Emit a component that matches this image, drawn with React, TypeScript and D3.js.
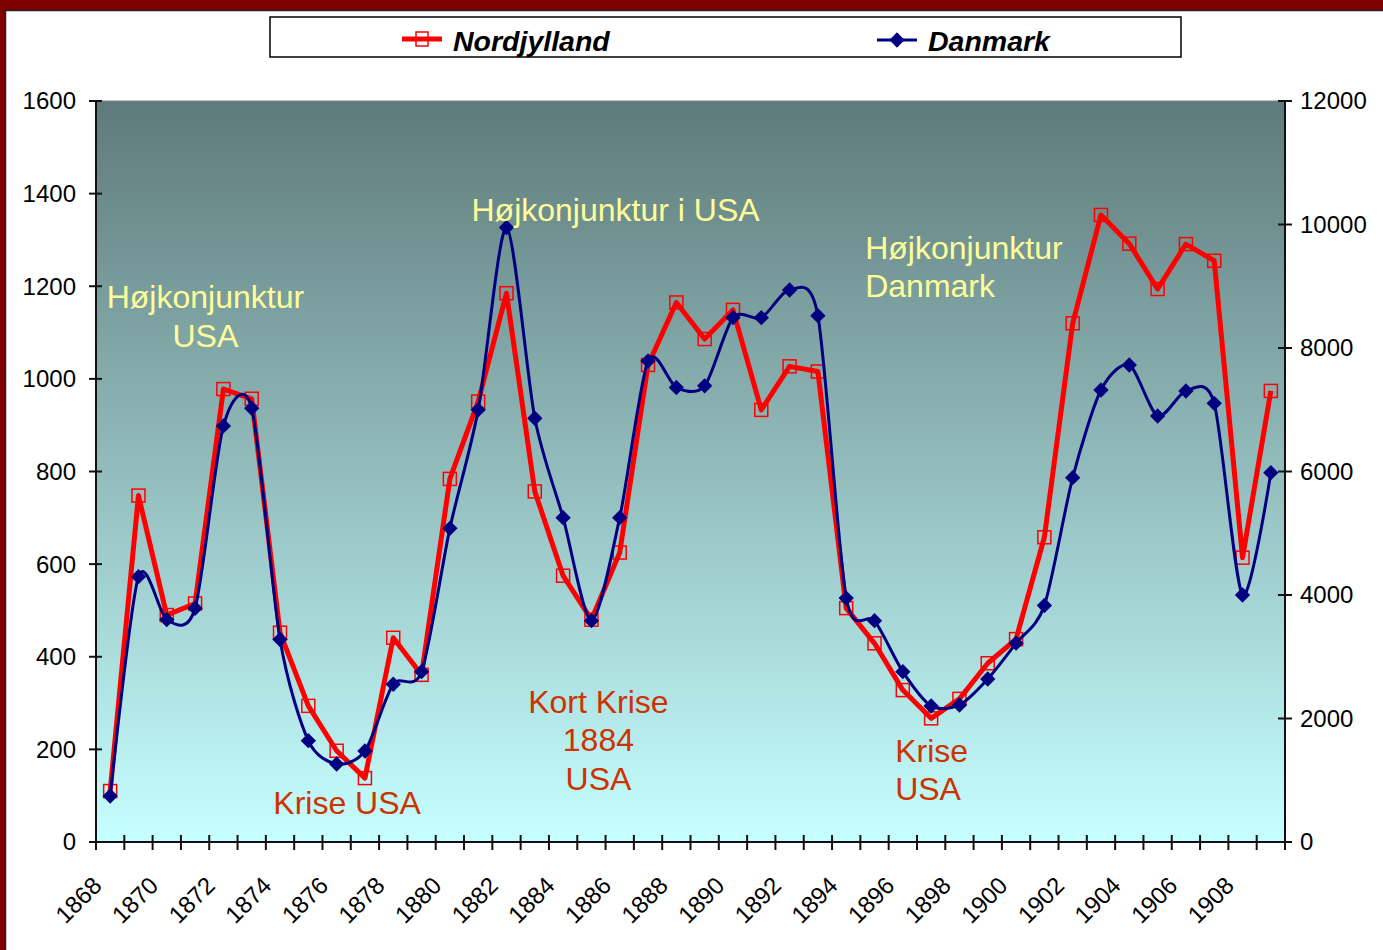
import React, { useEffect, useRef } from 'react';
import * as d3 from 'd3';

const years = d3.range(1868, 1910).map(String);

// Nordjylland, left axis
const nordjylland = [
  110, 748, 490, 515, 978, 957, 452, 294, 197, 138,
  441, 361, 784, 951, 1185, 757, 575, 480, 625, 1030,
  1165, 1086, 1149, 933, 1027, 1016, 505, 429, 328, 267,
  309, 386, 438, 658, 1120, 1354, 1292, 1194, 1291, 1255,
  614, 974,
];

// Danmark, right axis
const danmark = [
  745, 4297, 3600, 3785, 6738, 7025, 3280, 1641, 1263, 1474,
  2555, 2758, 5080, 6998, 9951, 6862, 5253, 3585, 5253, 7791,
  7360, 7387, 8491, 8491, 8939, 8523, 3950, 3584, 2758, 2203,
  2219, 2640, 3220, 3830, 5900, 7320, 7725, 6899, 7304, 7104,
  4000, 5981,
];

const leftTicks = [0, 200, 400, 600, 800, 1000, 1200, 1400, 1600];
const rightTicks = [0, 2000, 4000, 6000, 8000, 10000, 12000];
const xLabels = years.filter((_, i) => i % 2 === 0);

const notes = [
  { lines: ['Højkonjunktur', 'USA'], year: '1872', value: 1153, anchor: 'middle', color: '#FFFF99', dx: -18 },
  { lines: ['Højkonjunktur i USA'], year: '1882', value: 1341, anchor: 'start', color: '#FFFF99', dx: -35 },
  { lines: ['Højkonjunktur', 'Danmark'], year: '1894', value: 1259, anchor: 'start', color: '#FFFF99', dx: 19 },
  { lines: ['Krise USA'], year: '1875', value: 60, anchor: 'start', color: '#CC3300', dx: -35 },
  { lines: ['Kort Krise', '1884', 'USA'], year: '1885', value: 279, anchor: 'middle', color: '#CC3300', dx: 7 },
  { lines: ['Krise', 'USA'], year: '1897', value: 173, anchor: 'start', color: '#CC3300', dx: -36 },
];

const W = 1383;
const H = 950;
const plot = { left: 96, right: 1285, top: 101, bottom: 842 };
const font = '"Liberation Sans", Arial, sans-serif';

const App: React.FC = () => {
  const svgRef = useRef<SVGSVGElement>(null);

  useEffect(() => {
    const svg = d3.select(svgRef.current);
    svg.selectAll('*').remove();

    const x = d3.scaleBand().domain(years).range([plot.left, plot.right]);
    const cx = (y: string) => x(y)! + x.bandwidth() / 2;
    const yL = d3.scaleLinear().domain([0, 1600]).range([plot.bottom, plot.top]);
    const yR = d3.scaleLinear().domain([0, 12000]).range([plot.bottom, plot.top]);

    // page frame
    svg.append('rect').attr('width', W).attr('height', H).attr('fill', '#fff');
    svg.append('rect').attr('x', 0).attr('y', 0).attr('width', W).attr('height', 10).attr('fill', '#800000');
    svg.append('rect').attr('x', 0).attr('y', 0).attr('width', 5).attr('height', H).attr('fill', '#800000');
    svg.append('line').attr('x1', 5).attr('x2', W).attr('y1', 10.5).attr('y2', 10.5).attr('stroke', '#222').attr('stroke-width', 1.5);
    svg.append('line').attr('x1', 5.5).attr('x2', 5.5).attr('y1', 10).attr('y2', H).attr('stroke', '#222').attr('stroke-width', 1.5);

    // plot background
    const grad = svg.append('defs').append('linearGradient')
      .attr('id', 'bg').attr('x1', 0).attr('y1', 0).attr('x2', 0).attr('y2', 1);
    grad.append('stop').attr('offset', '0%').attr('stop-color', '#5F7A7A');
    grad.append('stop').attr('offset', '100%').attr('stop-color', '#C6FFFF');
    svg.append('rect')
      .attr('x', plot.left).attr('y', plot.top)
      .attr('width', plot.right - plot.left).attr('height', plot.bottom - plot.top)
      .attr('fill', 'url(#bg)');
    svg.append('line').attr('x1', plot.left).attr('x2', plot.right)
      .attr('y1', plot.top).attr('y2', plot.top).attr('stroke', '#808080').attr('stroke-width', 1);

    // axes
    const ax = svg.append('g').attr('stroke', '#111').attr('stroke-width', 2);
    ax.append('line').attr('x1', plot.left).attr('x2', plot.left).attr('y1', plot.top).attr('y2', plot.bottom);
    ax.append('line').attr('x1', plot.right).attr('x2', plot.right).attr('y1', plot.top).attr('y2', plot.bottom + 8);
    ax.append('line').attr('x1', plot.left - 6).attr('x2', plot.right + 6).attr('y1', plot.bottom).attr('y2', plot.bottom);
    leftTicks.forEach(t => {
      ax.append('line').attr('x1', plot.left - 7).attr('x2', plot.left + 6).attr('y1', yL(t)).attr('y2', yL(t));
    });
    rightTicks.forEach(t => {
      ax.append('line').attr('x1', plot.right - 7).attr('x2', plot.right + 7).attr('y1', yR(t)).attr('y2', yR(t));
    });
    years.forEach(y => {
      const xx = x(y)!;
      ax.append('line').attr('x1', xx).attr('x2', xx).attr('y1', plot.bottom - 7).attr('y2', plot.bottom + 8);
    });

    svg.append('g').selectAll('text').data(leftTicks).join('text')
      .attr('x', 76).attr('y', d => yL(d)).attr('dy', '0.35em')
      .attr('text-anchor', 'end').attr('font-family', font).attr('font-size', 24)
      .text(d => String(d));
    svg.append('g').selectAll('text').data(rightTicks).join('text')
      .attr('x', 1300).attr('y', d => yR(d)).attr('dy', '0.35em')
      .attr('font-family', font).attr('font-size', 24)
      .text(d => String(d));
    svg.append('g').selectAll('text').data(xLabels).join('text')
      .attr('transform', d => `translate(${cx(d) - 7},${plot.bottom + 45}) rotate(-45)`)
      .attr('text-anchor', 'end').attr('font-family', font).attr('font-size', 24)
      .text(d => d);

    // series
    const redPts = nordjylland.map((v, i) => [cx(years[i]), yL(v)] as [number, number]);
    const bluePts = danmark.map((v, i) => [cx(years[i]), yR(v)] as [number, number]);

    svg.append('path').attr('d', d3.line()(redPts)!)
      .attr('fill', 'none').attr('stroke', '#FF0000').attr('stroke-width', 5).attr('stroke-linejoin', 'round');
    svg.append('g').selectAll('rect').data(redPts).join('rect')
      .attr('x', d => d[0] - 6.5).attr('y', d => d[1] - 6.5).attr('width', 13).attr('height', 13)
      .attr('fill', 'none').attr('stroke', '#FF0000').attr('stroke-width', 1.5);

    svg.append('path').attr('d', d3.line().curve(d3.curveCardinal.tension(0.2))(bluePts)!)
      .attr('fill', 'none').attr('stroke', '#000080').attr('stroke-width', 3);
    const diamond = d3.symbol().type(d3.symbolDiamond2).size(150);
    svg.append('g').selectAll('path').data(bluePts).join('path')
      .attr('transform', d => `translate(${d[0]},${d[1]})`)
      .attr('d', diamond()!).attr('fill', '#000080');

    // annotations
    notes.forEach(n => {
      const t = svg.append('text')
        .attr('x', cx(n.year) + n.dx).attr('y', yL(n.value))
        .attr('text-anchor', n.anchor).attr('font-family', font).attr('font-size', 32)
        .attr('fill', n.color);
      n.lines.forEach((l, i) => {
        t.append('tspan').attr('x', cx(n.year) + n.dx).attr('dy', i === 0 ? 0 : 38.5).text(l);
      });
    });

    // legend
    const lg = svg.append('g');
    lg.append('rect').attr('x', 270).attr('y', 17).attr('width', 911).attr('height', 40)
      .attr('fill', '#fff').attr('stroke', '#000').attr('stroke-width', 1.5);
    lg.append('line').attr('x1', 402).attr('x2', 442).attr('y1', 39).attr('y2', 39)
      .attr('stroke', '#FF0000').attr('stroke-width', 5);
    lg.append('rect').attr('x', 416).attr('y', 32).attr('width', 12).attr('height', 14)
      .attr('fill', 'none').attr('stroke', '#FF0000').attr('stroke-width', 1.5);
    lg.append('text').attr('x', 453).attr('y', 51).attr('font-family', font)
      .attr('font-size', 28.5).attr('font-weight', 'bold').attr('font-style', 'italic').text('Nordjylland');
    lg.append('line').attr('x1', 877).attr('x2', 917).attr('y1', 40).attr('y2', 40)
      .attr('stroke', '#000080').attr('stroke-width', 3);
    lg.append('path').attr('transform', 'translate(897,40)').attr('d', diamond()!).attr('fill', '#000080');
    lg.append('text').attr('x', 928).attr('y', 51).attr('font-family', font)
      .attr('font-size', 28.5).attr('font-weight', 'bold').attr('font-style', 'italic').text('Danmark');
  }, []);

  return (
    <div style={{ position: 'absolute', left: 0, top: 0 }}>
      <svg ref={svgRef} width={W} height={H} style={{ display: 'block' }}></svg>
    </div>
  );
};

export default App;
